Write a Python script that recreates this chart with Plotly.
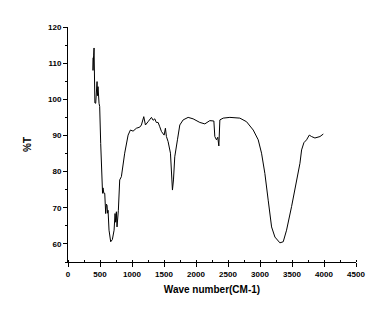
import plotly.graph_objects as go

wavenumber = [391, 391, 395, 400, 407, 412, 420, 433, 443, 448, 454, 460, 469, 485, 495, 511, 532, 540, 547, 560,
              574, 589, 600, 610, 618, 626, 641, 667, 693, 720, 735, 745, 756, 766, 787, 808, 834, 886, 939, 975,
              1017, 1069, 1121, 1147, 1184, 1195, 1210, 1251, 1304, 1330, 1356, 1380, 1408, 1434, 1460, 1502, 1522,
              1538, 1564, 1601, 1620, 1632, 1648, 1668, 1710, 1747, 1799, 1877, 1955, 2060, 2138, 2216, 2279, 2294,
              2320, 2340, 2357, 2373, 2425, 2529, 2685, 2790, 2894, 2972, 3024, 3076, 3128, 3181, 3233, 3311, 3363,
              3415, 3493, 3572, 3624, 3650, 3686, 3728, 3770, 3806, 3858, 3937, 3989]
transmittance = [111.5, 108.0, 110.5, 112.0, 114.2, 103.5, 99.0, 98.9, 101.7, 104.5, 104.9, 101.0, 103.5, 98.9, 98.0,
                 87.8, 77.7, 74.0, 75.5, 74.0, 74.0, 68.4, 71.0, 70.7, 68.5, 69.3, 63.8, 60.6, 61.2, 63.8, 68.4, 66.0,
                 68.9, 64.7, 69.3, 77.7, 78.6, 85.1, 90.1, 91.5, 91.2, 92.0, 92.3, 92.9, 95.2, 93.5, 92.9, 93.8, 95.0,
                 94.2, 94.6, 93.6, 93.6, 92.4, 91.1, 90.1, 92.0, 89.7, 88.3, 85.1, 79.0, 74.9, 77.7, 84.1, 88.8, 92.9,
                 94.3, 95.0, 94.6, 93.6, 93.2, 94.1, 94.0, 89.7, 88.8, 89.5, 87.1, 94.3, 94.8, 95.0, 94.8, 93.8, 91.5,
                 88.8, 85.1, 79.5, 72.1, 64.7, 61.9, 60.3, 60.6, 63.8, 70.3, 77.7, 82.3, 86.0, 88.0, 88.8, 90.1, 89.7,
                 89.3, 89.7, 90.4]

x_ticks = [0, 500, 1000, 1500, 2000, 2500, 3000, 3500, 4000, 4500]
y_ticks = [60, 70, 80, 90, 100, 110, 120]

fig = go.Figure(go.Scatter(x=wavenumber, y=transmittance, mode="lines",
                           line=dict(color="black", width=1), line_shape="linear"))

fnt = dict(family="Liberation Sans", size=8, color="black", weight="bold")
fig.update_layout(
    width=387, height=319, margin=dict(l=68, r=31, t=27, b=57),
    paper_bgcolor="white", plot_bgcolor="white", showlegend=False,
    font=fnt,
    xaxis=dict(range=[0, 4500], tickvals=x_ticks, ticks="outside", ticklen=4, tickwidth=1,
               tickcolor="black", showline=True, linecolor="black", linewidth=1,
               showgrid=False, zeroline=False,
               minor=dict(dtick=250, ticks="inside", ticklen=2, tickcolor="black", showgrid=False),
               tickfont=fnt,
               title=dict(text="Wave number(CM-1)", font=dict(family="Liberation Sans", size=10,
                                                            color="black", weight="bold"), standoff=8)),
    yaxis=dict(range=[55, 120], tickvals=y_ticks, ticks="outside", ticklen=4, tickwidth=1,
               tickcolor="black", showline=True, linecolor="black", linewidth=1,
               showgrid=False, zeroline=False,
               minor=dict(dtick=5, ticks="outside", ticklen=2, tickcolor="black", showgrid=False),
               tickfont=fnt,
               title=dict(text="%T", font=dict(family="Liberation Sans", size=10,
                                             color="black", weight="bold"), standoff=14)),
)
fig.write_html("out.html")
